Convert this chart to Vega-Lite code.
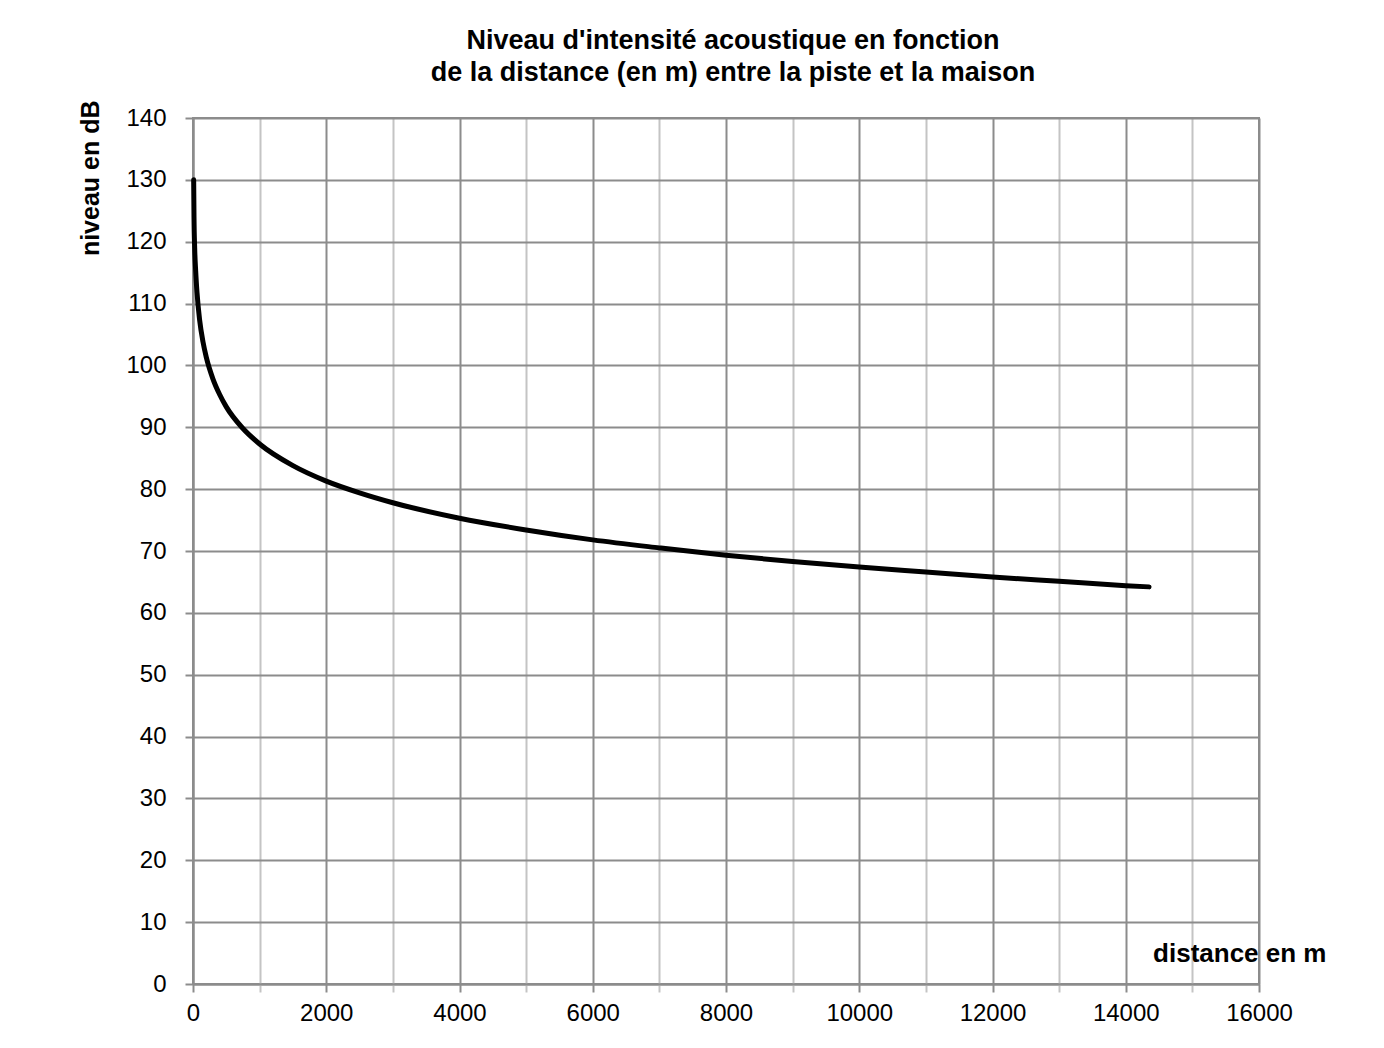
{
  "$schema": "https://vega.github.io/schema/vega-lite/v6.json",
  "width": 1066,
  "height": 866,
  "autosize": {"type": "none"},
  "padding": {"left": 193, "top": 118, "right": 125, "bottom": 64},
  "background": "white",
  "title": {
    "text": ["Niveau d'intensité acoustique en fonction", "de la distance (en m) entre la piste et la maison"],
    "font": "Liberation Sans",
    "fontSize": 27,
    "fontWeight": "bold",
    "lineHeight": 32,
    "color": "black",
    "anchor": "middle",
    "dx": 7,
    "offset": 13
  },
  "data": {
    "values": [
      {"distance": 10, "niveau": 130},
      {"distance": 15, "niveau": 124},
      {"distance": 25, "niveau": 119},
      {"distance": 40, "niveau": 115.3},
      {"distance": 60, "niveau": 111.8},
      {"distance": 100, "niveau": 107.3},
      {"distance": 150, "niveau": 103.8},
      {"distance": 200, "niveau": 101.3},
      {"distance": 300, "niveau": 97.8},
      {"distance": 400, "niveau": 95.3},
      {"distance": 500, "niveau": 93.3},
      {"distance": 750, "niveau": 89.8},
      {"distance": 1000, "niveau": 87.3},
      {"distance": 1500, "niveau": 83.8},
      {"distance": 2000, "niveau": 81.3},
      {"distance": 2500, "niveau": 79.4},
      {"distance": 3000, "niveau": 77.8},
      {"distance": 4000, "niveau": 75.3},
      {"distance": 5000, "niveau": 73.4},
      {"distance": 6000, "niveau": 71.8},
      {"distance": 7000, "niveau": 70.5},
      {"distance": 8000, "niveau": 69.3},
      {"distance": 9000, "niveau": 68.3},
      {"distance": 10000, "niveau": 67.4},
      {"distance": 11000, "niveau": 66.6},
      {"distance": 12000, "niveau": 65.8},
      {"distance": 13000, "niveau": 65.1},
      {"distance": 14000, "niveau": 64.4},
      {"distance": 14350, "niveau": 64.2}
    ]
  },
  "mark": {"type": "line", "color": "black", "strokeWidth": 5, "interpolate": "monotone", "strokeCap": "round"},
  "encoding": {
    "x": {
      "field": "distance",
      "type": "quantitative",
      "scale": {"domain": [0, 16000], "nice": false},
      "axis": {
        "values": [0, 1000, 2000, 3000, 4000, 5000, 6000, 7000, 8000, 9000, 10000, 11000, 12000, 13000, 14000, 15000, 16000],
        "labelExpr": "datum.value % 2000 === 0 ? datum.value : ''",
        "title": "distance en m",
        "titleFont": "Liberation Sans",
        "titleFontSize": 26,
        "titleFontWeight": "bold",
        "titleColor": "black",
        "titleAlign": "right",
        "titleBaseline": "middle",
        "titleX": 1133,
        "titleY": -31,
        "gridColor": {"condition": {"test": "datum.value % 2000 === 0", "value": "#8c8c8c"}, "value": "#c4c4c4"},
        "tickColor": {"condition": {"test": "datum.value % 2000 === 0", "value": "#8c8c8c"}, "value": "#c4c4c4"},
        "gridWidth": 2,
        "tickWidth": 2,
        "tickSize": 8,
        "labelPadding": 9,
        "labelFlush": false
      }
    },
    "y": {
      "field": "niveau",
      "type": "quantitative",
      "scale": {"domain": [0, 140], "nice": false},
      "axis": {
        "values": [0, 10, 20, 30, 40, 50, 60, 70, 80, 90, 100, 110, 120, 130, 140],
        "title": "niveau en dB",
        "titleFont": "Liberation Sans",
        "titleFontSize": 25,
        "titleFontWeight": "bold",
        "titleColor": "black",
        "titleAngle": -90,
        "titleAlign": "right",
        "titleBaseline": "middle",
        "titleX": -103,
        "titleY": -18,
        "gridColor": "#8c8c8c",
        "tickColor": "#8c8c8c",
        "gridWidth": 2,
        "tickWidth": 2,
        "tickSize": 8,
        "labelPadding": 19,
        "labelFlush": false
      }
    }
  },
  "config": {
    "view": {"stroke": "#8c8c8c", "strokeWidth": 2},
    "axis": {
      "labelFont": "Liberation Sans",
      "labelFontSize": 24,
      "labelColor": "black",
      "domainColor": "#8c8c8c",
      "domainWidth": 2
    }
  }
}
